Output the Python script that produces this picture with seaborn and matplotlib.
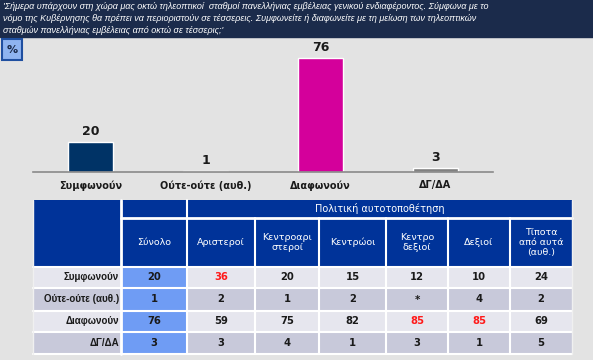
import matplotlib
matplotlib.use('Agg')
import matplotlib.pyplot as plt
from matplotlib.patches import Rectangle
import seaborn as sns

# Bar chart data
categories = ['Συμφωνούν', 'Ούτε-ούτε (αυθ.)', 'Διαφωνούν', 'ΔΓ/ΔΑ']
values = [20, 1, 76, 3]
bar_colors = ['#003366', '#ffffff', '#d4009b', '#808080']

# Table data
col_headers = ['Σύνολο', 'Αριστεροί', 'Κεντροαρι\nστεροί', 'Κεντρώοι',
               'Κεντρο\nδεξιοί', 'Δεξιοί', 'Τίποτα\nαπό αυτά\n(αυθ.)']
group_header = 'Πολιτική αυτοτοποθέτηση'
row_labels = ['Συμφωνούν', 'Ούτε-ούτε (αυθ.)', 'Διαφωνούν', 'ΔΓ/ΔΑ']
table_values = [
    ['20', '36', '20', '15', '12', '10', '24'],
    ['1', '2', '1', '2', '*', '4', '2'],
    ['76', '59', '75', '82', '85', '85', '69'],
    ['3', '3', '4', '1', '3', '1', '5'],
]
red_cells = [(0, 1), (2, 4), (2, 5)]

question = ("'Σήμερα υπάρχουν στη χώρα μας οκτώ τηλεοπτικοί  σταθμοί πανελλήνιας εμβέλειας γενικού ενδιαφέροντος. Σύμφωνα με το\n"
            "νόμο της Κυβέρνησης θα πρέπει να περιοριστούν σε τέσσερεις. Συμφωνείτε ή διαφωνείτε με τη μείωση των τηλεοπτικών\n"
            "σταθμών πανελλήνιας εμβέλειας από οκτώ σε τέσσερις;'")

sns.set_theme(style='white')
plt.rcParams['font.family'] = ['DejaVu Sans']

W, H = 593, 360
fig = plt.figure(figsize=(W / 100, H / 100), dpi=100)
fig.patch.set_facecolor('#e3e3e3')

# overlay axes in pixel coordinates for banner and table
bg = fig.add_axes([0, 0, 1, 1])
bg.set_xlim(0, W)
bg.set_ylim(H, 0)
bg.axis('off')

# banner
bg.add_patch(Rectangle((0, 0), W, 37, color='#1b2b4b'))
bg.text(3, 18.5, question, color='white', fontsize=6.45, style='italic',
        family='Liberation Sans', va='center', ha='left', linespacing=1.42)

# % box
bg.add_patch(Rectangle((2, 39), 20, 21, facecolor='#8fb4f0', edgecolor='#1f4fa0', lw=1.5))
bg.text(12, 50, '%', fontsize=8, fontweight='bold', color='#1a2a4a', ha='center', va='center')

# bar chart
ax = fig.add_axes([33 / W, (H - 172) / H, 460 / W, 127.5 / H])
ax.patch.set_alpha(0)
sns.barplot(x=categories, y=values, hue=categories, palette=bar_colors, legend=False,
            saturation=1, width=0.39, edgecolor='white', linewidth=1, ax=ax)
ax.set_xlim(-0.5, 3.5)
ax.set_ylim(0, 85)
for i, v in enumerate(values):
    ax.text(i, v + 2.5, str(v), ha='center', va='bottom', fontsize=9,
            fontweight='bold', color='#1a1a1a')
sns.despine(ax=ax, left=True)
ax.spines['bottom'].set_color('#8a8a8a')
ax.spines['bottom'].set_linewidth(1.2)
ax.set_yticks([])
ax.set_ylabel('')
ax.set_xlabel('')
ax.tick_params(axis='x', length=0, pad=6)
for lbl in ax.get_xticklabels():
    lbl.set_fontsize(7)
    lbl.set_fontweight('bold')
    lbl.set_color('#1a1a1a')

# table
col_x = [33, 121, 187, 255, 319, 386, 448, 510, 572]
row_y = [267, 288, 311, 332, 354]
head_top, band_bot = 200, 218
dark_blue = '#003399'
total_blue = '#6f9cf4'
row_bg = ['#e6e6ee', '#c8c9da', '#e6e6ee', '#c8c9da']

# header cells
bg.add_patch(Rectangle((col_x[0], head_top), col_x[1] - col_x[0], row_y[0] - head_top,
                       facecolor=dark_blue, edgecolor='none'))
bg.add_patch(Rectangle((col_x[1], head_top), col_x[-1] - col_x[1], row_y[0] - head_top,
                       facecolor=dark_blue, edgecolor='none'))
bg.text((col_x[2] + col_x[-1]) / 2, (head_top + band_bot) / 2, group_header,
        color='white', fontsize=7, ha='center', va='center')
for j, h in enumerate(col_headers):
    cx = (col_x[j + 1] + col_x[j + 2]) / 2
    bg.text(cx, (band_bot + row_y[0]) / 2, h, color='white', fontsize=6.8,
            ha='center', va='center', linespacing=1.1)

# data rows
for i, lab in enumerate(row_labels):
    y0, y1 = row_y[i], row_y[i + 1]
    bg.add_patch(Rectangle((col_x[0], y0), col_x[-1] - col_x[0], y1 - y0,
                           facecolor=row_bg[i], edgecolor='none'))
    bg.add_patch(Rectangle((col_x[1], y0), col_x[2] - col_x[1], y1 - y0,
                           facecolor=total_blue, edgecolor='none'))
    bg.text(col_x[1] - 2, (y0 + y1) / 2, lab, fontsize=7, fontweight='bold',
            family='Liberation Sans', color='#1a1a1a', ha='right', va='center')
    for j, val in enumerate(table_values[i]):
        cx = (col_x[j + 1] + col_x[j + 2]) / 2
        color = '#ff1a1a' if (i, j) in red_cells else '#1a1a1a'
        bg.text(cx, (y0 + y1) / 2, val, fontsize=7.2, fontweight='bold',
                color=color, ha='center', va='center')

# white grid lines
for y in row_y:
    bg.plot([col_x[0], col_x[-1]], [y, y], color='white', lw=1.5)
bg.plot([col_x[1], col_x[-1]], [band_bot, band_bot], color='white', lw=2)
for j, x in enumerate(col_x[1:-1], start=1):
    top = head_top if j <= 2 else band_bot
    bg.plot([x, x], [top, row_y[-1]], color='white', lw=2 if j == 1 else 1.5)
bg.plot([col_x[0], col_x[0]], [head_top, row_y[-1]], color='#f0f0f0', lw=1)
bg.plot([col_x[-1], col_x[-1]], [head_top, row_y[-1]], color='#f0f0f0', lw=1)

fig.savefig('out.png', dpi=100, facecolor=fig.get_facecolor())
